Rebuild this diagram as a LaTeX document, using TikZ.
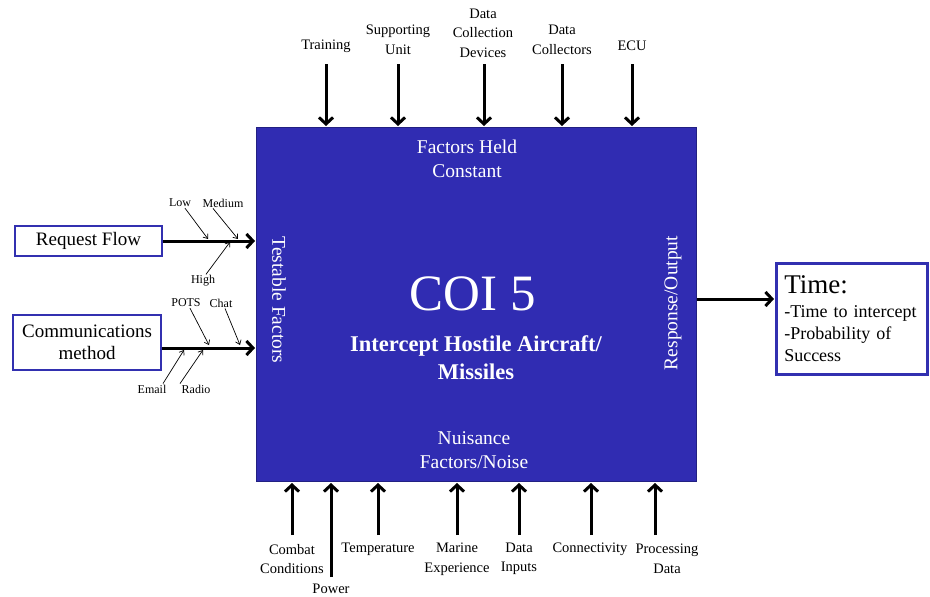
\documentclass[tikz,border=0pt]{standalone}
\usepackage{fontspec}
\setmainfont{Liberation Serif}
\usetikzlibrary{arrows.meta,positioning}
\definecolor{coiblue}{RGB}{48,44,178}
\definecolor{coiedge}{RGB}{34,32,130}
\definecolor{boxedge}{RGB}{50,48,176}

\begin{document}
\begin{tikzpicture}[
    x=1pt, y=-1pt,
    coibox/.style={rectangle, draw=coiedge, line width=1pt, fill=coiblue, minimum width=440pt, minimum height=354pt},
    inner/.style={text=white, align=center, font=\fontsize{19.5}{24}\selectfont},
    side/.style={rectangle, draw=boxedge, line width=2.5pt, fill=white, align=center, font=\fontsize{19}{22}\selectfont},
    lbl/.style={align=center, inner sep=1pt, font=\fontsize{14.5}{19.5}\selectfont},
    tiny/.style={inner sep=1pt, font=\fontsize{12}{14}\selectfont},
    bigarrow/.style={line width=3pt, -{Straight Barb[length=6.5pt,width=14pt]}},
    thinarrow/.style={line width=0.7pt, -{Straight Barb[length=4pt,width=6pt]}}
]
\useasboundingbox (0,0) rectangle (930,597);

% Main block
\node[coibox] (coi) at (476.5,304.5) {};
\node[inner] (held) at (467,159) {Factors Held\\Constant};
\node[inner] (noise) at (474,450) {Nuisance\\Factors/Noise};
\node[inner, rotate=-90] (testable) at (279,300) {Testable Factors};
\node[inner, rotate=90] (resp) at (673,303) {Response/Output};
\node[text=white, font=\fontsize{51}{51}\selectfont] (coiname) at (473,294) {COI 5};
\node[inner, font=\bfseries\fontsize{22.5}{28}\selectfont] (mission) at (476,358) {Intercept Hostile Aircraft/\\Missiles};

% Factors held constant
\node[lbl] (training) at (326,46) {Training};
\node[lbl] (support) at (398,40) {Supporting\\Unit};
\node[lbl] (devices) at (483,33) {Data\\Collection\\Devices};
\node[lbl] (collectors) at (562,40) {Data\\Collectors};
\node[lbl] (ecu) at (632,46) {ECU};

\coordinate (t1) at (326,64);
\coordinate (t2) at (398,64);
\coordinate (t3) at (484,64);
\coordinate (t4) at (562,64);
\coordinate (t5) at (632,64);
\draw[bigarrow] (t1) -- ([yshift=1pt]t1 |- coi.north);
\draw[bigarrow] (t2) -- ([yshift=1pt]t2 |- coi.north);
\draw[bigarrow] (t3) -- ([yshift=1pt]t3 |- coi.north);
\draw[bigarrow] (t4) -- ([yshift=1pt]t4 |- coi.north);
\draw[bigarrow] (t5) -- ([yshift=1pt]t5 |- coi.north);

% Nuisance factors
\node[lbl] (combat) at (292,559) {Combat\\Conditions};
\node[lbl] (power) at (331,589) {Power};
\node[lbl] (temp) at (378,549) {Temperature};
\node[lbl] (marine) at (457,559) {Marine\\Experience};
\node[lbl] (inputs) at (519,559) {Data\\Inputs};
\node[lbl] (connect) at (590,549) {Connectivity};
\node[lbl] (processing) at (667,559) {Processing\\Data};

\coordinate (b1) at (292,535);
\coordinate (b2) at (331,577);
\coordinate (b3) at (378,535);
\coordinate (b4) at (457,535);
\coordinate (b5) at (519,535);
\coordinate (b6) at (591,535);
\coordinate (b7) at (655,535);
\draw[bigarrow] (b1) -- ([yshift=-1pt]b1 |- coi.south);
\draw[bigarrow] (b2) -- ([yshift=-1pt]b2 |- coi.south);
\draw[bigarrow] (b3) -- ([yshift=-1pt]b3 |- coi.south);
\draw[bigarrow] (b4) -- ([yshift=-1pt]b4 |- coi.south);
\draw[bigarrow] (b5) -- ([yshift=-1pt]b5 |- coi.south);
\draw[bigarrow] (b6) -- ([yshift=-1pt]b6 |- coi.south);
\draw[bigarrow] (b7) -- ([yshift=-1pt]b7 |- coi.south);

% Testable factors
\node[side, minimum width=147pt, minimum height=30pt] (req) at (88.5,241) {Request Flow};
\node[side, minimum width=148pt, minimum height=55pt] (comm) at (87,342.5) {Communications\\method};
\draw[bigarrow] (req.east) -- ([xshift=-1pt]req.east -| coi.west);
\draw[bigarrow] ([yshift=-5.5pt]comm.east) -- ([yshift=-5.5pt,xshift=-1pt]comm.east -| coi.west);

\node[tiny] (low) at (180,203) {Low};
\node[tiny] (medium) at (223,203) {Medium};
\node[tiny] (high) at (203,281) {High};
\node[tiny] (pots) at (186,303) {POTS};
\node[tiny] (chat) at (221,303) {Chat};
\node[tiny] (email) at (152,389) {Email};
\node[tiny] (radio) at (196,389) {Radio};

\coordinate (lowtip) at (208,239);
\coordinate (medtip) at (238,239);
\coordinate (hightip) at (230,242);
\coordinate (potstip) at (209,345);
\coordinate (chattip) at (240,345);
\coordinate (emailtip) at (184,350);
\coordinate (radiotip) at (203,350);
\draw[thinarrow] ([xshift=5pt]low.south) -- (lowtip);
\draw[thinarrow] ([xshift=-10pt]medium.south) -- (medtip);
\draw[thinarrow] ([xshift=3pt]high.north) -- (hightip);
\draw[thinarrow] ([xshift=4pt]pots.south) -- (potstip);
\draw[thinarrow] ([xshift=4pt]chat.south) -- (chattip);
\draw[thinarrow] ([xshift=11pt]email.north) -- (emailtip);
\draw[thinarrow] ([xshift=-16pt]radio.north) -- (radiotip);

% Response
\node[side, align=left, text width=135pt, inner xsep=8pt, minimum height=111pt, anchor=north west, font=\fontsize{18}{22}\selectfont] (time) at (775,262)
  {{\fontsize{27}{27}\selectfont Time:}\\[2pt]-Time to intercept\\-Probability of\\Success};
\coordinate (outpt) at (697,299);
\draw[bigarrow] (outpt) -- ([xshift=-1pt]outpt -| time.west);

\end{tikzpicture}
\end{document}
